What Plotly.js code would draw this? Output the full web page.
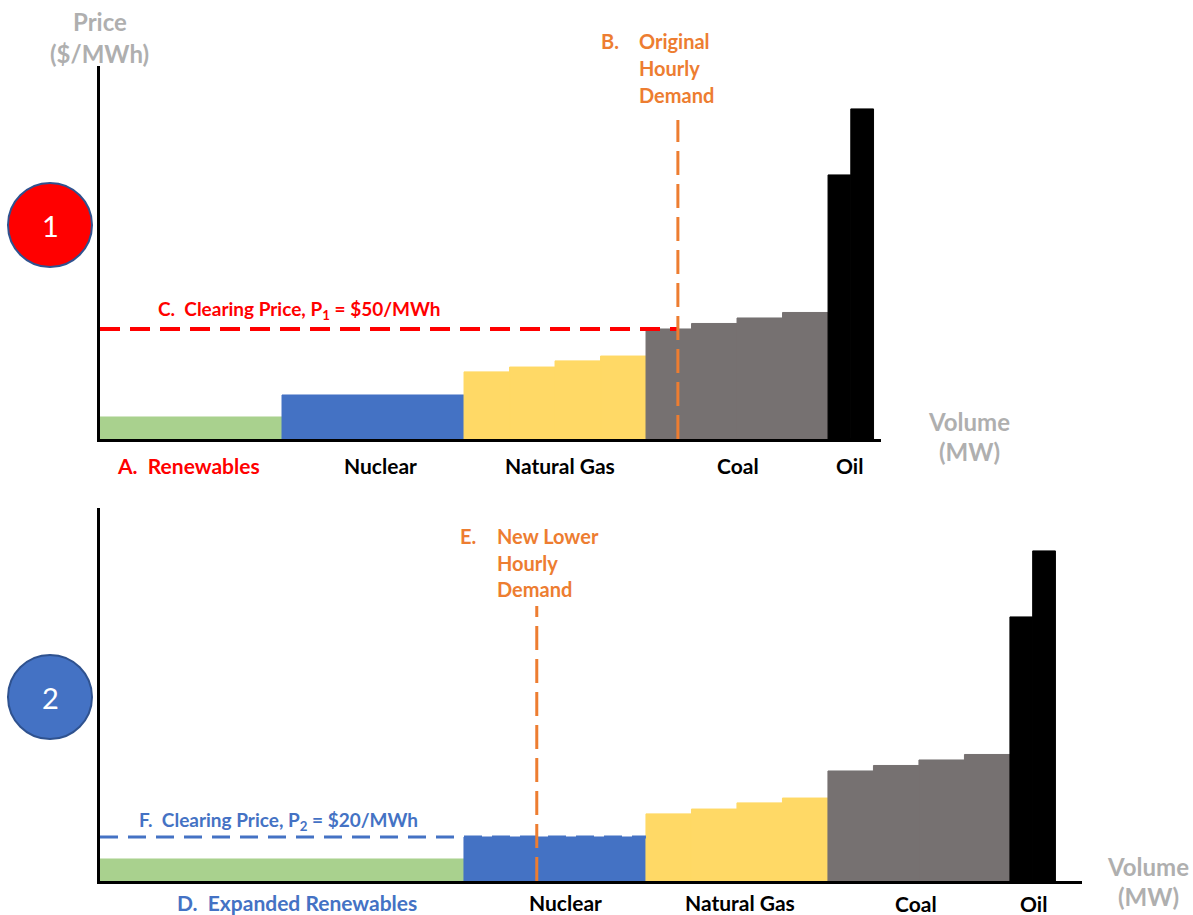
<!DOCTYPE html>
<html>
<head>
<meta charset="utf-8">
<script src="https://cdn.plot.ly/plotly-3.0.1.min.js"></script>
<style>html,body{margin:0;padding:0;background:#fff;}#chart{width:1193px;height:915px;}</style>
</head>
<body>
<div id="chart"></div>
<script>
// ---------- DATA ----------
const fuels = ['Renewables', 'Nuclear', 'Natural Gas', 'Coal', 'Oil'];
// offer prices ($/MWh) of each unit, in merit order
const renewablesPrice = [10];
const nuclearPrice = [20];
const gasPrice = [30.5, 32.7, 35.5, 37.7];
const coalPrice = [50, 52.5, 55, 57.5];
const oilPrice = [120, 150];
// unit capacities (MW)
const renewablesMW1 = [1000];   // scenario 1
const renewablesMW2 = [2000];   // scenario 2 (expanded renewables)
const nuclearMW = [1000];
const gasMW = [250, 250, 250, 250];
const coalMW = [250, 250, 250, 250];
const oilMW = [125, 125];
// demand (MW) and clearing price ($/MWh) for each scenario
const hourlyDemand = [3175, 2400];
const clearingPrice = [50, 20];
const demandLineTop = [145, 125];
const xMax = [4291, 5396];
const yMax = [169.5, 169.5];

// ---------- STYLE ----------
const W = 1193, H = 915;
const px = v => v / W, py = v => 1 - v / H;
const fuelColors = ['#A9D18E', '#4472C4', '#FFD966', '#767171', '#000000'];
const FONT = 'Lato, "Open Sans", sans-serif';
const ORANGE = '#ED7D31', RED = '#FF0000', BLUE = '#4472C4', GREY = '#AFAFAF';

function buildBars(widthSets, priceSets, xa, ya) {
  const traces = [];
  let cum = 0;
  widthSets.forEach((ws, i) => {
    const xs = [], wd = [], ys = [];
    ws.forEach((w, j) => {
      xs.push(cum + w / 2); wd.push(w); ys.push(priceSets[i][j]);
      cum += w;
    });
    traces.push({
      type: 'bar', x: xs, y: ys, width: wd, base: 0,
      marker: {color: fuelColors[i], line: {width: 1, color: fuelColors[i]}},
      xaxis: xa, yaxis: ya, hoverinfo: 'skip', name: fuels[i]
    });
  });
  return traces;
}

const prices = [renewablesPrice, nuclearPrice, gasPrice, coalPrice, oilPrice];
const traces1 = buildBars([renewablesMW1, nuclearMW, gasMW, coalMW, oilMW], prices, 'x', 'y');
const traces2 = buildBars([renewablesMW2, nuclearMW, gasMW, coalMW, oilMW], prices, 'x2', 'y2');

const sum = a => a.reduce((s, v) => s + v, 0);
const nuclearEnd2 = sum(renewablesMW2) + sum(nuclearMW);

const lines = [
  {type: 'scatter', mode: 'lines', x: [0, hourlyDemand[0]], y: [clearingPrice[0], clearingPrice[0]],
   line: {color: RED, width: 4, dash: '20px,10px'}, xaxis: 'x', yaxis: 'y', hoverinfo: 'skip'},
  {type: 'scatter', mode: 'lines', x: [hourlyDemand[0], hourlyDemand[0]], y: [0, demandLineTop[0]],
   line: {color: ORANGE, width: 3, dash: '24px,9px'}, xaxis: 'x', yaxis: 'y', hoverinfo: 'skip'},
  {type: 'scatter', mode: 'lines', x: [0, nuclearEnd2], y: [clearingPrice[1], clearingPrice[1]],
   line: {color: BLUE, width: 3, dash: '18px,10px'}, xaxis: 'x2', yaxis: 'y2', hoverinfo: 'skip'},
  {type: 'scatter', mode: 'lines', x: [hourlyDemand[1], hourlyDemand[1]], y: [0, demandLineTop[1]],
   line: {color: ORANGE, width: 3, dash: '24px,9px'}, xaxis: 'x2', yaxis: 'y2', hoverinfo: 'skip'}
];

const axisCommon = {showgrid: false, zeroline: false, showticklabels: false, ticks: '',
  showline: true, linecolor: '#000', linewidth: 3, fixedrange: true};

function ann(text, x, y, opts) {
  return Object.assign({text: text, x: px(x), y: py(y), xref: 'paper', yref: 'paper',
    showarrow: false, xanchor: 'center', yanchor: 'middle',
    font: {family: FONT, size: 18, color: '#000', weight: 700}}, opts || {});
}
const f = (size, color, weight) => ({family: FONT, size: size, color: color, weight: weight === undefined ? 700 : weight});

const annotations = [
  ann('Price', 100, 21, {font: f(24, GREY)}),
  ann('($/MWh)', 99, 53, {font: f(24, GREY)}),
  ann('B.', 610, 41, {font: f(20, ORANGE)}),
  ann('Original', 637, 41, {xanchor: 'left', font: f(20, ORANGE)}),
  ann('Hourly', 637, 68, {xanchor: 'left', font: f(20, ORANGE)}),
  ann('Demand', 637, 95, {xanchor: 'left', font: f(20, ORANGE)}),
  ann('1', 50, 225, {font: f(29, '#FFFFFF', 400)}),
  ann('C.  Clearing Price, P<sub>1</sub> = $50/MWh', 299, 310, {font: f(19, RED)}),
  ann('A.  Renewables', 188, 465, {font: f(21, RED)}),
  ann(fuels[1], 380, 465, {font: f(21, '#000')}),
  ann(fuels[2], 560, 465, {font: f(21, '#000')}),
  ann(fuels[3], 738, 465, {font: f(21, '#000')}),
  ann(fuels[4], 849, 465, {font: f(21, '#000')}),
  ann('Volume', 969, 421, {font: f(24, GREY)}),
  ann('(MW)', 969, 452, {font: f(24, GREY)}),

  ann('E.', 468, 536, {font: f(20, ORANGE)}),
  ann('New Lower', 495, 536, {xanchor: 'left', font: f(20, ORANGE)}),
  ann('Hourly', 495, 563, {xanchor: 'left', font: f(20, ORANGE)}),
  ann('Demand', 495, 589, {xanchor: 'left', font: f(20, ORANGE)}),
  ann('2', 50, 697, {font: f(29, '#FFFFFF', 400)}),
  ann('F.  Clearing Price, P<sub>2</sub> = $20/MWh', 278, 821, {font: f(19, BLUE)}),
  ann('D.  Expanded Renewables', 297, 902, {font: f(21, BLUE)}),
  ann(fuels[1], 565, 902, {font: f(21, '#000')}),
  ann(fuels[2], 740, 902, {font: f(21, '#000')}),
  ann(fuels[3], 916, 903, {font: f(21, '#000')}),
  ann(fuels[4], 1033, 903, {font: f(21, '#000')}),
  ann('Volume', 1148, 866, {font: f(24, GREY)}),
  ann('(MW)', 1148, 896, {font: f(24, GREY)})
];

const shapes = [
  {type: 'circle', xref: 'paper', yref: 'paper', x0: px(8), x1: px(92), y0: py(267), y1: py(183),
   fillcolor: '#FF0000', line: {color: '#2F528F', width: 2}},
  {type: 'circle', xref: 'paper', yref: 'paper', x0: px(8), x1: px(92), y0: py(739), y1: py(655),
   fillcolor: '#4472C4', line: {color: '#2F528F', width: 2}}
];

const layout = {
  width: W, height: H,
  margin: {l: 0, r: 0, t: 0, b: 0},
  paper_bgcolor: '#fff', plot_bgcolor: 'rgba(0,0,0,0)',
  showlegend: false, barmode: 'overlay',
  xaxis: Object.assign({}, axisCommon, {domain: [px(100), px(881)], range: [0, xMax[0]], anchor: 'y'}),
  yaxis: Object.assign({}, axisCommon, {domain: [py(439), py(66)], range: [0, yMax[0]], anchor: 'x'}),
  xaxis2: Object.assign({}, axisCommon, {domain: [px(100), px(1082)], range: [0, xMax[1]], anchor: 'y2'}),
  yaxis2: Object.assign({}, axisCommon, {domain: [py(881), py(508)], range: [0, yMax[1]], anchor: 'x2'}),
  annotations: annotations,
  shapes: shapes
};

Plotly.newPlot('chart', traces1.concat(traces2, lines), layout, {displayModeBar: false, staticPlot: true});
</script>
</body>
</html>
